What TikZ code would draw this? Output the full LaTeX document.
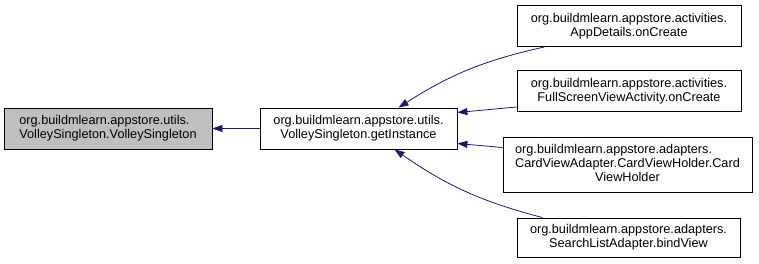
\documentclass[tikz,border=0pt]{standalone}
\usepackage{fontspec}
\setmainfont{Liberation Sans}
\usetikzlibrary{arrows.meta}

\definecolor{edgeblue}{HTML}{191970}
\definecolor{focusgray}{HTML}{BFBFBF}

\begin{document}
\begin{tikzpicture}[x=1pt, y=-1pt,
    fnbox/.style={draw, line width=0.8pt, fill=white, align=center,
        inner sep=0pt, font=\fontsize{12.7}{14}\selectfont},
    edge/.style={draw=edgeblue, line width=0.8pt,
        -{Triangle[length=10pt, width=7pt, fill=edgeblue]}}]
    \useasboundingbox (0,0) rectangle (759,264);

    % the function itself, and what it calls
    \node[fnbox, align=left, fill=focusgray, minimum width=208pt, minimum height=41pt] (ctor) at (108,128.5)
        {org.buildmlearn.appstore.utils.\\VolleySingleton.VolleySingleton};
    \node[fnbox, minimum width=197pt, minimum height=41pt] (getinst) at (358.5,128.5)
        {org.buildmlearn.appstore.utils.\\VolleySingleton.getInstance};

    % callers of getInstance
    \node[fnbox, minimum width=224pt, minimum height=41pt] (appdetails) at (629,26)
        {org.buildmlearn.appstore.activities.\\AppDetails.onCreate};
    \node[fnbox, minimum width=224pt, minimum height=41pt] (fullscreen) at (629,91)
        {org.buildmlearn.appstore.activities.\\FullScreenViewActivity.onCreate};
    \node[fnbox, minimum width=249pt, minimum height=55pt] (cardholder) at (627.5,164.5)
        {\begin{tabular}{@{}l@{}}
            org.buildmlearn.appstore.adapters.\\
            CardViewAdapter.CardViewHolder.Card\\
            \multicolumn{1}{@{}c@{}}{ViewHolder}
        \end{tabular}};
    \node[fnbox, minimum width=223pt, minimum height=39pt] (bindview) at (628.5,237.5)
        {org.buildmlearn.appstore.adapters.\\SearchListAdapter.bindView};

    % call edges
    \draw[edge] (getinst.west) -- (ctor.east);
    \draw[edge] ([xshift=28pt]appdetails.south west) to[bend right=10] ([xshift=40pt]getinst.north);
    \draw[edge] ([yshift=-16pt]fullscreen.west) -- ([yshift=16pt]getinst.east);
    \draw[edge] ([yshift=17pt]cardholder.west) -- ([yshift=-15pt]getinst.east);
    \draw[edge] ([xshift=26pt]bindview.north west) to[bend left=10] ([xshift=36pt]getinst.south);
\end{tikzpicture}
\end{document}
